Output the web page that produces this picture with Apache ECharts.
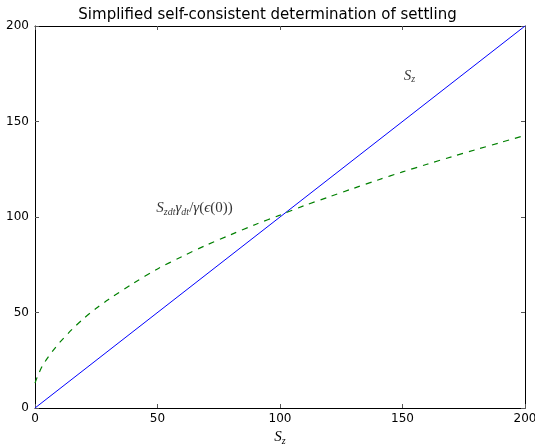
<!DOCTYPE html>
<html><head><meta charset="utf-8">
<script src="https://cdn.jsdelivr.net/npm/echarts@6/dist/echarts.min.js"></script>
<style>html,body{margin:0;padding:0;background:#fff}#c{width:535px;height:445px}</style>
</head><body><div id="c"></div>
<script>
const titleText = 'Simplified self-consistent determination of settling';
const xTicks = [0, 50, 100, 150, 200];
const yTicks = [0, 50, 100, 150, 200];
const lineX = [0, 200];
const lineY = [0, 200];
const curveX = [0, 1, 2, 3, 5, 7.5, 10, 15, 20, 25, 30, 40, 50, 60, 70, 80, 90, 100, 110, 120, 130, 140, 150, 160, 170, 180, 190, 200];
const curveY = [13, 16.5, 19.4, 22, 26, 30.3, 34.2, 41, 47, 52.2, 56.8, 65.2, 72.8, 79.3, 85.3, 90.8, 96.1, 101, 106, 110.5, 115, 119.4, 123.6, 127.6, 131.5, 135.3, 139, 142.7];
const annotations = [
  {x: 150.5, y: 174, text: '{i|S}{s|z}'},
  {x: 49.5, y: 104.5, text: '{i|S}{s|zdt}{i|γ}{s|dt}{r|/}{i|γ}{r|(}{i|ϵ}{r|(0))}'}
];

const serif = 'Liberation Serif';
const rich = {
  i: {fontFamily: serif, fontStyle: 'italic', fontSize: 15, color: '#000'},
  r: {fontFamily: serif, fontSize: 15, color: '#000'},
  s: {fontFamily: serif, fontStyle: 'italic', fontSize: 10, color: '#000', verticalAlign: 'bottom', padding: [7, 0, 0, 0]}
};

const chart = echarts.init(document.getElementById('c'), null, {renderer: 'canvas'});
const axisCommon = {
  min: 0, max: 200, interval: 50,
  axisLine: {show: true, onZero: false, lineStyle: {color: '#000', width: 1}},
  axisTick: {show: true, inside: true, length: 4, lineStyle: {color: '#555'}},
  splitLine: {show: false}
};
chart.setOption({
  animation: false,
  title: {text: titleText, left: 'center', top: 3, textStyle: {fontFamily: 'DejaVu Sans', fontSize: 15, fontWeight: 'normal', color: '#000'}},
  grid: {left: 35, right: 10, top: 26, bottom: 37, containLabel: false, outerBoundsMode: 'none'},
  xAxis: [
    Object.assign({}, axisCommon, {type: 'value', position: 'bottom',
      axisLabel: {fontFamily: 'DejaVu Sans', fontSize: 12, color: '#000', margin: 5, formatter: v => xTicks.includes(v) ? String(v) : ''},
      name: '{i|S}{s|z}', nameLocation: 'middle', nameGap: 20, nameTextStyle: {rich: rich}}),
    Object.assign({}, axisCommon, {type: 'value', position: 'top', axisLabel: {show: false}})
  ],
  yAxis: [
    Object.assign({}, axisCommon, {type: 'value', position: 'left',
      axisLabel: {fontFamily: 'DejaVu Sans', fontSize: 12, color: '#000', margin: 6, formatter: v => yTicks.includes(v) ? String(v) : ''}}),
    Object.assign({}, axisCommon, {type: 'value', position: 'right', axisLabel: {show: false}})
  ],
  series: [
    {type: 'line', data: lineX.map((x, i) => [x, lineY[i]]), showSymbol: false, symbol: 'none',
      lineStyle: {color: '#0000ff', width: 1}},
    {type: 'line', data: curveX.map((x, i) => [x, curveY[i]]), showSymbol: false, symbol: 'none', smooth: 0.3,
      lineStyle: {color: '#008000', width: 1.2, type: [6, 6]}},
    {type: 'scatter', symbolSize: 0, data: annotations.map(a => ({value: [a.x, a.y], label: {formatter: a.text}})),
      label: {show: true, position: 'right', distance: 0, rich: rich}, silent: true}
  ]
});
</script></body></html>
